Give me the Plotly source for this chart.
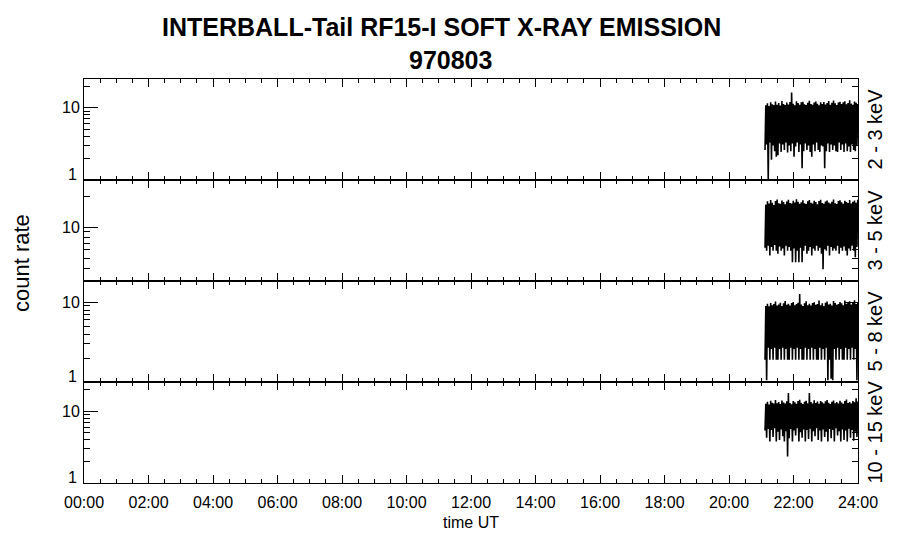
import plotly.graph_objects as go
from plotly.subplots import make_subplots
import math

# ---------------- data ----------------
title_line1 = "INTERBALL-Tail RF15-I SOFT X-RAY EMISSION"
title_line2 = "970803"
channel_labels = ["2 - 3 keV", "3 - 5 keV", "5 - 8 keV", "10 - 15 keV"]
y_ranges = [(1, 25), (3, 28.6), (1, 18.5), (1, 25.7)]

hour_ticks = [0, 2, 4, 6, 8, 10, 12, 14, 16, 18, 20, 22, 24]
hour_tick_labels = ["00:00", "02:00", "04:00", "06:00", "08:00", "10:00", "12:00",
                    "14:00", "16:00", "18:00", "20:00", "22:00", "24:00"]

# data start (hours) and bin width (minutes); per-bin envelope (low / high counts)
start_hour = 21 + 7 / 60
bin_minutes = 3

hi_2_3 = [10.8, 11.5, 10.6, 11.9, 11.2, 10.9, 12.2, 11.0, 11.6, 10.7, 12.4, 11.3, 10.9, 11.8, 11.1, 12.0,
          16.2, 11.4, 10.8, 12.3, 11.6, 11.0, 11.9, 12.1, 11.2, 10.9, 11.7, 12.5, 11.3, 11.0, 11.8, 12.2,
          11.4, 10.8, 11.9, 11.3, 12.0, 11.1, 11.6, 12.4, 11.0, 11.7, 12.6, 11.5, 10.9, 11.8, 12.1, 11.3,
          11.9, 12.3, 11.2, 11.6, 12.7, 11.4, 11.0, 12.2, 11.7, 11.3]
lo_2_3 = [2.6, 3.1, 1.02, 3.3, 1.9, 3.0, 2.5, 2.1, 2.2, 3.2, 2.45, 3.1, 2.6, 3.3, 2.4, 3.0,
          2.5, 3.2, 2.1, 2.9, 3.3, 2.45, 3.1, 1.45, 2.5, 3.2, 2.6, 3.0, 2.45, 2.1, 3.1, 2.5,
          3.3, 2.6, 2.45, 3.0, 2.9, 1.45, 2.5, 3.2, 2.45, 3.1, 2.6, 3.0, 2.5, 2.45, 3.3, 2.6,
          3.1, 2.45, 3.2, 2.5, 2.9, 2.45, 3.1, 2.6, 2.5, 3.0]

hi_3_5 = [16.5, 17.8, 16.9, 18.3, 17.2, 16.4, 17.9, 18.5, 17.0, 16.8, 18.1, 17.5, 16.6, 17.7, 18.4, 17.1,
          16.9, 18.0, 17.3, 18.6, 17.6, 16.8, 17.4, 18.2, 17.0, 16.7, 17.8, 18.3, 17.2, 16.9, 18.0, 17.5,
          16.6, 17.9, 18.4, 17.1, 16.8, 17.7, 18.1, 17.3, 16.9, 17.6, 18.5, 17.0, 16.7, 17.9, 18.2, 17.4,
          16.8, 18.0, 17.5, 17.1, 18.3, 16.9, 17.6, 18.1, 17.2, 18.4]
lo_3_5 = [6.3, 5.9, 6.6, 5.3, 6.4, 5.9, 6.7, 5.9, 5.5, 6.5, 5.9, 6.2, 5.3, 6.6, 5.9, 6.4,
          5.9, 4.56, 6.2, 4.56, 5.9, 4.56, 6.3, 4.56, 5.9, 6.6, 5.5, 5.9, 6.4, 5.3, 6.2, 5.9,
          6.6, 5.9, 6.3, 5.5, 3.9, 6.1, 5.9, 6.6, 5.3, 6.4, 5.9, 6.2, 5.9, 6.6, 5.5, 6.3,
          5.9, 6.5, 5.9, 5.3, 6.2, 5.9, 6.6, 5.9, 5.1, 6.4]

hi_5_8 = [9.0, 9.6, 8.9, 9.8, 9.2, 9.5, 10.2, 9.1, 9.4, 9.9, 9.0, 9.7, 10.4, 9.3, 9.6, 9.1,
          9.8, 10.1, 9.2, 9.5, 9.9, 12.7, 9.4, 9.0, 9.7, 10.3, 9.2, 9.6, 9.1, 9.8, 10.0, 9.3,
          9.5, 10.5, 9.2, 9.7, 9.0, 9.9, 10.2, 9.4, 9.6, 9.1, 10.4, 9.8, 9.3, 9.5, 10.1, 9.7,
          9.2, 10.5, 9.6, 9.9, 10.3, 9.4, 9.8, 10.6, 9.5, 9.9]
lo_5_8 = [1.9, 1.05, 2.7, 1.9, 2.6, 1.9, 2.7, 1.9, 1.9, 2.6, 1.9, 2.7, 1.9, 2.6, 1.9, 1.9,
          2.7, 1.9, 2.6, 1.9, 2.7, 1.9, 2.6, 1.9, 1.9, 2.7, 1.9, 2.6, 1.9, 2.7, 1.9, 2.6,
          1.9, 1.9, 2.7, 1.9, 2.6, 1.9, 2.7, 1.05, 1.9, 1.1, 1.05, 2.6, 1.9, 2.7, 1.9, 2.6,
          1.9, 1.9, 2.7, 1.9, 2.6, 1.9, 2.7, 1.9, 2.6, 1.05]

hi_10_15 = [12.8, 13.6, 12.5, 14.1, 13.2, 12.9, 14.4, 13.0, 13.5, 12.7, 14.2, 13.3, 12.9, 13.8, 18.0, 13.1,
            12.6, 14.0, 13.4, 12.8, 13.9, 14.5, 13.2, 12.7, 13.6, 14.1, 13.0, 18.0, 13.5, 12.9, 14.3, 13.1,
            13.7, 12.8, 14.0, 13.4, 12.9, 13.8, 14.4, 13.2, 12.7, 13.6, 14.2, 13.0, 13.5, 12.9, 14.1, 13.3,
            12.8, 13.9, 14.6, 13.1, 13.5, 12.9, 14.0, 13.4, 15.2, 13.7]
lo_10_15 = [5.4, 4.3, 5.7, 3.8, 5.5, 4.4, 5.8, 3.8, 5.2, 4.0, 5.6, 4.5, 3.8, 5.3, 2.35, 4.2,
            5.7, 3.8, 5.4, 4.6, 5.8, 3.8, 5.1, 4.3, 5.6, 3.8, 5.5, 4.1, 5.7, 3.8, 5.3, 4.5,
            5.8, 4.0, 5.4, 3.8, 5.6, 4.4, 5.2, 3.8, 5.7, 4.2, 5.5, 3.8, 5.8, 4.6, 5.3, 3.8,
            5.6, 4.0, 5.4, 3.8, 5.7, 4.3, 5.5, 3.9, 5.2, 4.4]

series = [(lo_2_3, hi_2_3), (lo_3_5, hi_3_5), (lo_5_8, hi_5_8), (lo_10_15, hi_10_15)]

# ---------------- figure ----------------
FONT = "Liberation Sans, Arial, sans-serif"
fig = make_subplots(rows=4, cols=1, shared_xaxes=True, vertical_spacing=0)

for k, (lo, hi) in enumerate(series):
    xs, ys = [], []
    for i, (a, b) in enumerate(zip(lo, hi)):
        t = start_hour + i * bin_minutes / 60
        xs += [t, t + bin_minutes / 120]
        ys += [a, b]
    fig.add_trace(go.Scatter(x=xs, y=ys, mode="lines",
                             line=dict(color="black", width=1.6),
                             showlegend=False, hoverinfo="skip"),
                  row=k + 1, col=1)

minor_y = [2, 3, 4, 5, 6, 7, 8, 9, 20, 30, 40]
for k in range(4):
    lo_r, hi_r = y_ranges[k]
    fig.update_yaxes(type="log", range=[math.log10(lo_r), math.log10(hi_r)],
                     tickmode="array", tickvals=[1, 10], ticktext=["", "10"],
                     ticks="inside", ticklen=14, tickwidth=1, tickcolor="black",
                     minor=dict(tickmode="array", tickvals=minor_y, ticks="inside",
                                ticklen=6, tickwidth=1, tickcolor="black", showgrid=False),
                     showline=True, linecolor="black", linewidth=1, mirror="ticks",
                     showgrid=False, zeroline=False, automargin=False,
                     tickfont=dict(family=FONT, size=16, color="black"),
                     row=k + 1, col=1)
    fig.update_xaxes(range=[0, 24], tickmode="array", tickvals=hour_ticks,
                     ticktext=hour_tick_labels, showticklabels=(k == 3),
                     ticks="inside", ticklen=8, tickwidth=1, tickcolor="black",
                     minor=dict(dtick=0.5, tick0=0, ticks="inside", ticklen=4,
                                tickwidth=1, tickcolor="black", showgrid=False),
                     showline=True, linecolor="black", linewidth=1, mirror="ticks",
                     showgrid=False, zeroline=False, automargin=False,
                     ticklabelstandoff=5,
                     tickfont=dict(family=FONT, size=16, color="black"),
                     row=k + 1, col=1)

fig.update_xaxes(title_text="time UT", title_font=dict(family=FONT, size=16, color="black"),
                 title_standoff=6, row=4, col=1)

# "1" labels sit slightly above the bottom axis line, as in the reference
yrefs = ["y", "y2", "y3", "y4"]
for k in range(4):
    if y_ranges[k][0] <= 1:
        fig.add_annotation(text="1", xref="paper", yref=yrefs[k], x=0, y=math.log10(1),
                           xanchor="right", yanchor="middle", xshift=-5, yshift=6,
                           showarrow=False, font=dict(family=FONT, size=16, color="black"))

# page has an 8px body margin: plot area on screen spans x 84..858, y 79..483
fig.add_annotation(text="<b>" + title_line1 + "</b>", xref="paper", yref="paper",
                   x=(441 - 84) / 774, y=1 + (79 - 27) / 404, showarrow=False,
                   font=dict(family=FONT, size=25, color="black"), xanchor="center", yanchor="middle")
fig.add_annotation(text="<b>" + title_line2 + "</b>", xref="paper", yref="paper",
                   x=(450 - 84) / 774, y=1 + (79 - 60) / 404, showarrow=False,
                   font=dict(family=FONT, size=25, color="black"), xanchor="center", yanchor="middle")
fig.add_annotation(text="count rate", xref="paper", yref="paper",
                   x=(22 - 84) / 774, y=(483 - 263) / 404, showarrow=False, textangle=-90,
                   font=dict(family=FONT, size=22, color="black"), xanchor="center", yanchor="middle")
for k, lab in enumerate(channel_labels):
    fig.add_annotation(text=lab, xref="paper", yref="paper",
                       x=(874 - 84) / 774, y=1 - (k + 0.5) / 4, showarrow=False, textangle=-90,
                       font=dict(family=FONT, size=20, color="black"),
                       xanchor="center", yanchor="middle")

fig.update_layout(width=900, height=548, paper_bgcolor="white", plot_bgcolor="white",
                  margin=dict(l=76, r=50, t=71, b=73, autoexpand=False), showlegend=False)

fig.write_html("out.html")
